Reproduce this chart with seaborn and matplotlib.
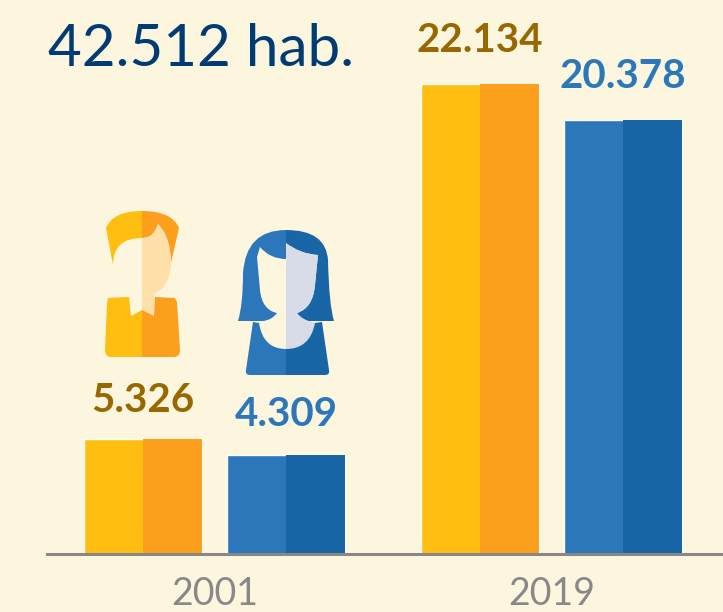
from __future__ import annotations

import matplotlib

matplotlib.use("Agg")

import matplotlib.pyplot as plt
import pandas as pd
import seaborn as sns
from matplotlib.patches import PathPatch, Rectangle
from matplotlib.path import Path

years = ["2001", "2019"]
groups = ["Homens", "Mulheres"]
# heights as measured from the drawn bars, the infographic is not strictly to scale
men_heights = [5416, 22134]
women_heights = [4662, 20438]
men_labels = ["5.326", "22.134"]
women_labels = ["4.309", "20.378"]
title_text = "42.512 hab."

BG = "#FDF6DF"
YELLOW = "#FFBE10"
ORANGE = "#FB9F1D"
BLUE = "#2B77B9"
DARK_BLUE = "#1866A6"
BROWN = "#986800"
NAVY = "#003B73"
GREY = "#888888"
PEACH = "#FFE0A8"
LAVENDER = "#D8DCE9"
FONT = "Lato"
M, L, C, Z = Path.MOVETO, Path.LINETO, Path.CURVE3, Path.CLOSEPOLY


def shape(ax, color, *steps):
    # steps are (x, y) for a line or (cx, cy, x, y) for a curve, in reference pixels
    verts = [steps[0]]
    codes = [M]
    for s in steps[1:]:
        if len(s) == 2:
            verts.append(s)
            codes.append(L)
        else:
            verts += [s[:2], s[2:]]
            codes += [C, C]
    verts.append(steps[0])
    codes.append(Z)
    ax.add_patch(PathPatch(Path(verts, codes), facecolor=color, edgecolor="none"))


def draw_man(ax):
    shape(ax, YELLOW, (106, 228), (113, 211, 142, 211), (142, 238), (113, 238, 113, 265))
    shape(ax, ORANGE, (142, 211), (172, 211, 179, 228), (171, 263), (171, 238, 158, 224), (154, 238, 142, 238))
    shape(ax, PEACH, (142, 238), (154, 238, 158, 224), (171, 238, 171, 263), (170, 287, 155, 293), (154, 316), (142, 310))
    shape(ax, YELLOW, (108, 298), (129, 297), (131, 316), (142, 310), (142, 357), (111, 357), (105, 357, 105, 350), (107, 303))
    shape(ax, ORANGE, (142, 310), (154, 316), (155, 297), (175, 298), (177, 302), (180, 350), (180, 357, 174, 357), (142, 357))


def draw_woman(ax):
    shape(ax, BLUE, (286, 230), (246, 230, 243, 273), (243, 305, 238, 321), (263, 321), (272, 320, 277, 313), (262, 310, 260, 290), (257, 257), (260, 247), (270, 259, 286, 259))
    shape(ax, DARK_BLUE, (286, 230), (326, 230, 328, 260), (329, 305, 334, 321), (308, 321), (300, 320, 297, 313), (313, 308, 315, 285), (318, 255), (300, 254, 286, 243))
    shape(ax, LAVENDER, (286, 243), (300, 254, 318, 255), (315, 285), (313, 308, 297, 313), (302, 320, 315, 323), (310, 349, 286, 349))
    shape(ax, BLUE, (253, 322), (259, 323), (263, 349, 286, 349), (286, 375), (250, 375), (245, 375, 246, 370))
    shape(ax, DARK_BLUE, (315, 323), (322, 322), (329, 370), (330, 375, 325, 375), (286, 375), (286, 349), (310, 349, 315, 323))


def main() -> None:
    data = pd.DataFrame(
        {
            "year": years * 2,
            "group": [groups[0]] * 2 + [groups[1]] * 2,
            "value": men_heights + women_heights,
        }
    )
    sns.set_theme(style="white", rc={"axes.facecolor": BG, "figure.facecolor": BG})
    plt.rcParams["font.family"] = [FONT, "DejaVu Sans"]

    fig = plt.figure(figsize=(7.23, 6.12), dpi=100)
    ax = fig.add_axes([47 / 723, 58 / 612, 676 / 723, 554 / 612])
    sns.barplot(
        data=data,
        x="year",
        y="value",
        hue="group",
        order=years,
        hue_order=groups,
        palette=[YELLOW, BLUE],
        width=0.849,
        gap=0.175,
        saturation=1,
        legend=False,
        ax=ax,
    )
    ax.set_xlim(-0.497, 1.509)
    ax.set_ylim(0, 26090)

    # right half of each bar in the darker shade
    dark = {0: ORANGE, 1: DARK_BLUE}
    for i, container in enumerate(ax.containers):
        for bar in container:
            ax.add_patch(
                Rectangle(
                    (bar.get_x() + bar.get_width() / 2, 0),
                    bar.get_width() / 2,
                    bar.get_height(),
                    facecolor=dark[i],
                    edgecolor="none",
                )
            )

    label_sets = [(men_labels, BROWN, [27, 32]), (women_labels, BLUE, [29, 32])]
    for container, (labels, color, pads) in zip(ax.containers, label_sets):
        for bar, text, pad in zip(container, labels, pads):
            ax.annotate(
                text,
                (bar.get_x() + bar.get_width() / 2, bar.get_height()),
                xytext=(0, pad * 0.72),
                textcoords="offset points",
                ha="center",
                va="baseline",
                color=color,
                fontsize=29,
                fontweight="bold",
            )

    for side in ["top", "left", "right"]:
        ax.spines[side].set_visible(False)
    ax.spines["bottom"].set_color(GREY)
    ax.spines["bottom"].set_linewidth(2.2)
    ax.set_xlabel("")
    ax.set_ylabel("")
    ax.set_yticks([])
    ax.tick_params(axis="x", length=0, pad=16, labelsize=27, labelcolor=GREY)

    overlay = fig.add_axes([0, 0, 1, 1], facecolor="none")
    overlay.set_xlim(0, 723)
    overlay.set_ylim(612, 0)
    overlay.axis("off")
    draw_man(overlay)
    draw_woman(overlay)
    overlay.text(48, 66, title_text, color=NAVY, fontsize=42, ha="left", va="baseline")

    fig.savefig("out.png", dpi=100, facecolor=BG)
    plt.close(fig)


if __name__ == "__main__":
    main()
